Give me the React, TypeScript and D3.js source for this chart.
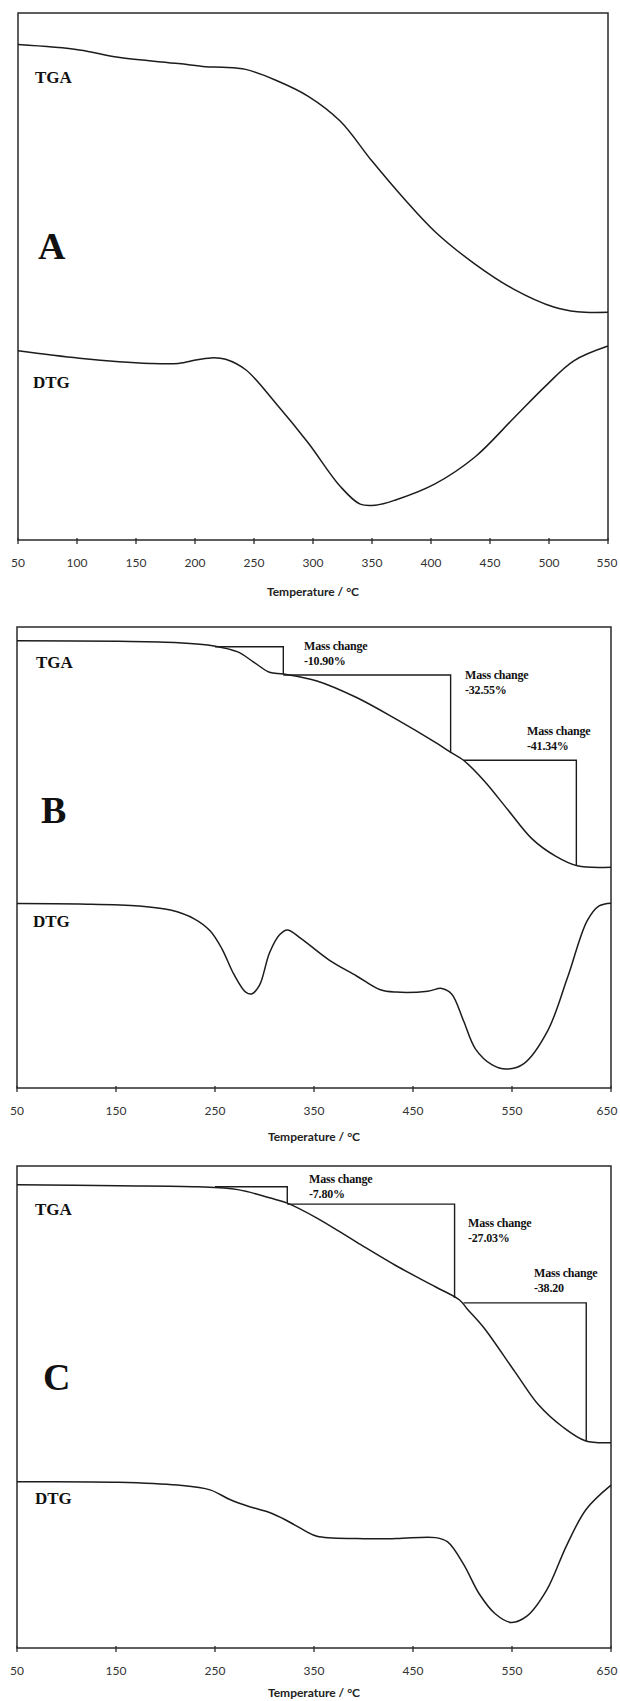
import React from 'react';
import * as d3 from 'd3';

// Panel A (50–550 °C), signal as % of plot height
const tgaATemp = [50, 102, 135, 186, 209, 223, 243, 269, 296, 323, 350, 377, 403, 437, 470, 504, 524, 550];
const tgaA = [94.0, 93.0, 91.6, 90.4, 89.8, 89.7, 89.3, 87.2, 84.2, 79.5, 71.9, 64.8, 58.6, 52.4, 47.6, 44.2, 43.3, 43.2];
const dtgATemp = [50, 102, 162, 186, 202, 216, 226, 243, 269, 296, 323, 340, 353, 370, 403, 437, 470, 497, 521, 550];
const dtgA = [35.9, 34.5, 33.5, 33.5, 34.2, 34.6, 34.3, 32.3, 25.8, 18.4, 10.2, 6.8, 6.6, 7.6, 10.6, 15.7, 23.1, 29.2, 34.0, 36.8];

// Panel B (50–650 °C)
const tgaBTemp = [50, 153, 213, 249, 273, 289, 305, 319, 353, 393, 433, 473, 489, 501, 522, 546, 570, 594, 616, 650];
const tgaB = [97.0, 96.9, 96.6, 95.9, 94.6, 92.4, 90.2, 89.8, 88.3, 84.7, 80.0, 74.9, 72.7, 71.1, 66.6, 60.3, 54.1, 50.3, 48.2, 47.9];
const dtgBTemp = [50, 113, 173, 205, 229, 245, 257, 269, 281, 287, 295, 305, 315, 323, 337, 365, 393, 417, 433, 465, 479, 489, 501, 513, 530, 544, 562, 586, 606, 626, 638, 650];
const dtgB = [40.0, 39.9, 39.5, 38.6, 36.7, 34.1, 30.2, 24.7, 20.8, 20.4, 22.3, 29.3, 33.2, 34.3, 32.4, 27.8, 24.3, 21.3, 20.8, 21.0, 21.6, 20.4, 14.6, 8.5, 5.0, 4.1, 5.3, 12.4, 23.9, 36.3, 39.5, 40.1];
const stepStartB = [250, 319, 501];
const stepEndB = [319, 488, 615];
const stepTopB = [95.7, 89.6, 71.1];
const stepBottomB = [89.8, 72.7, 48.2];
const massChangeB = ['-10.90%', '-32.55%', '-41.34%'];

// Panel C (50–650 °C)
const tgaCTemp = [50, 152, 232, 273, 305, 323, 353, 393, 433, 473, 497, 505, 521, 553, 577, 601, 624, 650];
const tgaC = [96.1, 95.9, 95.7, 95.1, 93.4, 92.3, 89.2, 84.2, 79.3, 74.9, 72.2, 70.3, 66.6, 57.3, 50.4, 45.9, 43.0, 42.6];
const dtgCTemp = [50, 152, 212, 245, 265, 285, 305, 321, 341, 353, 393, 433, 473, 485, 501, 517, 533, 549, 565, 585, 605, 625, 650];
const dtgC = [34.5, 34.4, 33.8, 32.8, 30.8, 29.3, 28.1, 26.6, 24.3, 23.2, 22.7, 22.7, 22.9, 22.0, 17.4, 11.2, 7.1, 5.3, 6.6, 12.0, 21.2, 28.8, 33.8];
const stepStartC = [250, 323, 501];
const stepEndC = [323, 492, 625];
const stepTopC = [95.7, 92.1, 71.6];
const stepBottomC = [92.3, 72.6, 42.9];
const massChangeC = ['-7.80%', '-27.03%', '-38.20'];

const ticksA = [50, 100, 150, 200, 250, 300, 350, 400, 450, 500, 550];
const ticksBC = [50, 150, 250, 350, 450, 550, 650];

const ink = '#1c1c1c';
const serif = '"Liberation Serif", "Times New Roman", serif';
const sans = 'Lato, "Open Sans", sans-serif';

interface PanelProps {
  letter: string;
  left: number; right: number; top: number; bottom: number;
  titleGap: number;
  domain: [number, number];
  ticks: number[];
  tga: { t: number[]; v: number[] };
  dtg: { t: number[]; v: number[] };
  steps?: { start: number[]; end: number[]; top: number[]; bottom: number[]; labels: string[] };
  labelPos: { tga: [number, number]; dtg: [number, number]; letter: [number, number]; steps?: [number, number][] };
}

function Panel(p: PanelProps) {
  const x = d3.scaleLinear().domain(p.domain).range([p.left, p.right]);
  const y = d3.scaleLinear().domain([0, 100]).range([p.bottom, p.top]);
  const line = d3.line<[number, number]>()
    .x(d => x(d[0]))
    .y(d => y(d[1]))
    .curve(d3.curveCatmullRom.alpha(0.5));
  const tgaPts = p.tga.t.map((t, i) => [t, p.tga.v[i]] as [number, number]);
  const dtgPts = p.dtg.t.map((t, i) => [t, p.dtg.v[i]] as [number, number]);
  const cx = (p.left + p.right) / 2;

  return (
    <g>
      <rect x={p.left} y={p.top} width={p.right - p.left} height={p.bottom - p.top}
        fill="none" stroke="#2a2a2a" strokeWidth={1.5} />
      {p.ticks.map(t => (
        <g key={t}>
          <line x1={x(t)} x2={x(t)} y1={p.bottom - 2} y2={p.bottom + 4} stroke="#2a2a2a" strokeWidth={1.3} />
          <text x={Math.min(x(t), 607)} y={p.bottom + 22} textAnchor="middle" dominantBaseline="central"
            fontFamily={sans} fontSize={12} fill="#333">{t}</text>
        </g>
      ))}
      <text x={cx} y={p.bottom + p.titleGap} textAnchor="middle" dominantBaseline="central"
        fontFamily={sans} fontWeight="bold" fontSize={12} fill="#222">Temperature / °C</text>

      <path d={line(tgaPts) || ''} fill="none" stroke={ink} strokeWidth={1.5} />
      <path d={line(dtgPts) || ''} fill="none" stroke={ink} strokeWidth={1.5} />

      {p.steps && p.steps.start.map((s, i) => {
        const st = p.steps!;
        return (
          <path key={i}
            d={`M${x(s)},${y(st.top[i])}H${x(st.end[i])}V${y(st.bottom[i])}`}
            fill="none" stroke={ink} strokeWidth={1.4} />
        );
      })}
      {p.steps && p.labelPos.steps && p.steps.labels.map((lab, i) => {
        const [dx, dy] = p.labelPos.steps![i];
        return (
          <text key={lab} x={p.left + dx} y={p.top + dy} fontFamily={serif} fontWeight="bold"
            fontSize={12} fill="#111" dominantBaseline="central" letterSpacing={-0.2}>
            <tspan x={p.left + dx}>Mass change</tspan>
            <tspan x={p.left + dx} dy={15}>{lab}</tspan>
          </text>
        );
      })}

      <text x={p.left + p.labelPos.tga[0]} y={p.top + p.labelPos.tga[1]} dominantBaseline="central"
        fontFamily={serif} fontWeight="bold" fontSize={17} fill="#111">TGA</text>
      <text x={p.left + p.labelPos.dtg[0]} y={p.top + p.labelPos.dtg[1]} dominantBaseline="central"
        fontFamily={serif} fontWeight="bold" fontSize={17} fill="#111">DTG</text>
      <text x={p.left + p.labelPos.letter[0]} y={p.top + p.labelPos.letter[1]} dominantBaseline="central"
        fontFamily={serif} fontWeight="bold" fontSize={38} fill="#111">{p.letter}</text>
    </g>
  );
}

export default function App() {
  return (
    <div style={{ position: 'absolute', left: 0, top: 0 }}>
      <svg width={620} height={1701} style={{ display: 'block', background: '#fff' }}>
        <Panel letter="A" left={18} right={608} top={13} bottom={540} titleGap={51} domain={[50, 550]} ticks={ticksA}
          tga={{ t: tgaATemp, v: tgaA }} dtg={{ t: dtgATemp, v: dtgA }}
          labelPos={{ tga: [17, 64], dtg: [15, 369], letter: [20, 233] }} />
        <Panel letter="B" left={17} right={611} top={627} bottom={1088} titleGap={48} domain={[50, 650]} ticks={ticksBC}
          tga={{ t: tgaBTemp, v: tgaB }} dtg={{ t: dtgBTemp, v: dtgB }}
          steps={{ start: stepStartB, end: stepEndB, top: stepTopB, bottom: stepBottomB, labels: massChangeB }}
          labelPos={{ tga: [19, 35], dtg: [16, 294], letter: [24, 183], steps: [[287, 19], [448, 48], [510, 104]] }} />
        <Panel letter="C" left={17} right={611} top={1166} bottom={1648} titleGap={44} domain={[50, 650]} ticks={ticksBC}
          tga={{ t: tgaCTemp, v: tgaC }} dtg={{ t: dtgCTemp, v: dtgC }}
          steps={{ start: stepStartC, end: stepEndC, top: stepTopC, bottom: stepBottomC, labels: massChangeC }}
          labelPos={{ tga: [18, 43], dtg: [18, 332], letter: [26, 211], steps: [[292, 13], [451, 57], [517, 107]] }} />
      </svg>
    </div>
  );
}
